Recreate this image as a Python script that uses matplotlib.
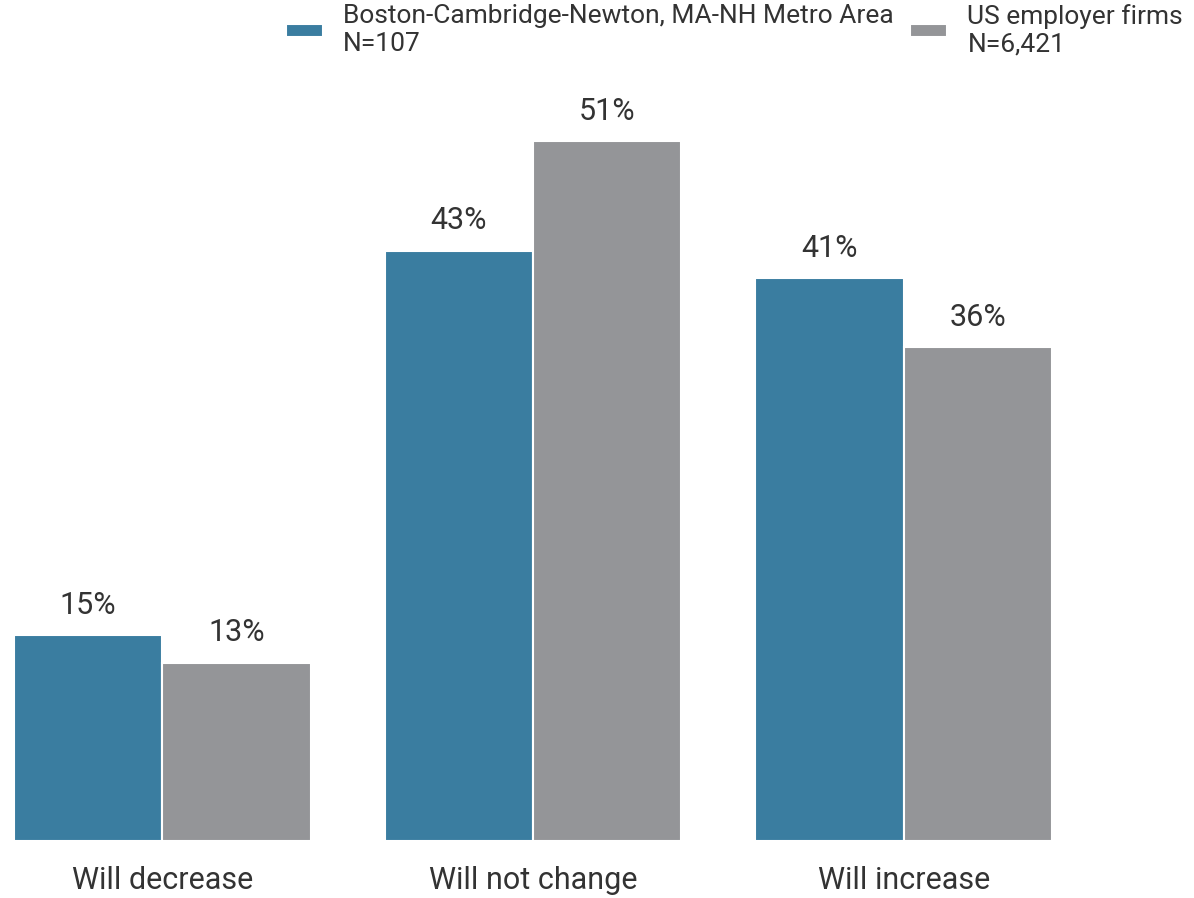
import matplotlib.pyplot as plt
import numpy as np

plt.rcParams['font.family'] = ['Roboto', 'DejaVu Sans']

categories = ['Will decrease', 'Will not change', 'Will increase']
series_names = ['Boston-Cambridge-Newton, MA-NH Metro Area\nN=107',
                'US employer firms\nN=6,421']
boston = [15, 43, 41]
us_firms = [13, 51, 36]
colors = ['#3A7DA0', '#949598']

W, H = 1194, 898
fig = plt.figure(figsize=(W / 100, H / 100), dpi=100)
ax = fig.add_axes([14 / W, 1 - 841 / H, (1052 - 14) / W, 755 / H])

x = np.arange(len(categories))
width = 0.4
b1 = ax.bar(x - width / 2, boston, width, color=colors[0],
            edgecolor='white', linewidth=1.5, label=series_names[0])
b2 = ax.bar(x + width / 2, us_firms, width, color=colors[1],
            edgecolor='white', linewidth=1.5, label=series_names[1])

for bars in (b1, b2):
    ax.bar_label(bars, labels=[f'{v}%' for v in bars.datavalues],
                 padding=11, fontsize=22, color='#333333')

ax.set_xlim(-0.4, 2.4)
ax.set_ylim(0, 55)
ax.set_xticks(x)
ax.set_xticklabels(categories, fontsize=22, color='#333333')
ax.tick_params(axis='x', length=0, pad=18)
ax.set_yticks([])
for s in ax.spines.values():
    s.set_visible(False)

fig.legend(loc='upper right', bbox_to_anchor=(1187 / W, 1.0), ncol=2,
           frameon=False, fontsize=19, labelcolor='#333333',
           handlelength=1.4, handleheight=0.42, handletextpad=0.76,
           columnspacing=0.64, borderpad=0.15, borderaxespad=0,
           labelspacing=0.3)

fig.savefig('out.png', dpi=100)
